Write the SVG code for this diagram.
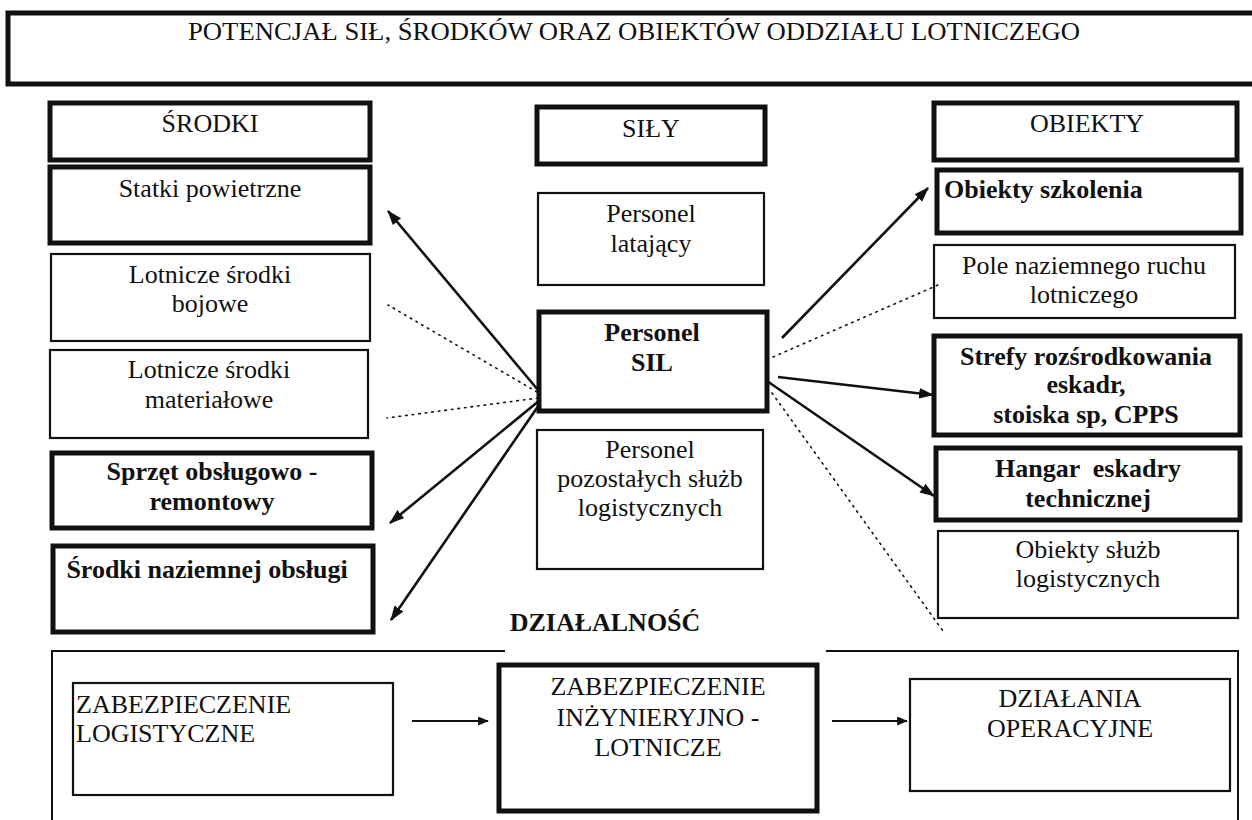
<svg xmlns="http://www.w3.org/2000/svg" width="1252" height="820" viewBox="0 0 1252 820">
  <style>
    text { font-family: "Liberation Serif", "Times New Roman", serif; font-size: 26px; fill: #111; }
    .c { text-anchor: middle; }
    .b { font-weight: bold; }
    .thick { fill: #fff; stroke: #111; stroke-width: 5; }
    .thin { fill: #fff; stroke: #111; stroke-width: 2.2; }
    .frame { fill: none; stroke: #111; stroke-width: 2; }
    .arrow { stroke: #111; stroke-width: 2.6; fill: none; marker-end: url(#ah); }
    .arrow-s { stroke: #111; stroke-width: 2; fill: none; marker-end: url(#ahs); }
    .dot { stroke: #111; stroke-width: 1.6; fill: none; stroke-dasharray: 1.6 5; stroke-linecap: round; }
  </style>
  <defs>
    <marker id="ah" viewBox="0 0 14 10" refX="13" refY="5" markerWidth="15" markerHeight="11" orient="auto" markerUnits="userSpaceOnUse">
      <path d="M0,0 L14,5 L0,10 Z" fill="#111"/>
    </marker>
    <marker id="ahs" viewBox="0 0 12 10" refX="11" refY="5" markerWidth="11" markerHeight="9" orient="auto" markerUnits="userSpaceOnUse">
      <path d="M0,0 L12,5 L0,10 Z" fill="#111"/>
    </marker>
  </defs>

  <rect width="1252" height="820" fill="#fff"/>

  <!-- header -->
  <g id="title">
    <rect x="8" y="13" width="1260" height="71" class="thick"/>
    <text x="634" y="40" class="c" textLength="892" lengthAdjust="spacingAndGlyphs">POTENCJAŁ SIŁ, ŚRODKÓW ORAZ OBIEKTÓW ODDZIAŁU LOTNICZEGO</text>
  </g>

  <!-- left column: ŚRODKI -->
  <g id="srodki">
    <rect x="50" y="103" width="320" height="57" class="thick"/>
    <text x="210" y="132" class="c">ŚRODKI</text>
  </g>
  <g id="statki">
    <rect x="50" y="167" width="320" height="76" class="thick"/>
    <text x="210" y="197" class="c">Statki powietrzne</text>
  </g>
  <g id="srodki-bojowe">
    <rect x="51" y="254" width="319" height="87" class="thin"/>
    <text x="210" y="283" class="c">Lotnicze środki</text>
    <text x="210" y="312" class="c">bojowe</text>
  </g>
  <g id="srodki-materialowe">
    <rect x="50" y="350" width="318" height="88" class="thin"/>
    <text x="209" y="378" class="c">Lotnicze środki</text>
    <text x="209" y="408" class="c">materiałowe</text>
  </g>
  <g id="sprzet">
    <rect x="52" y="453" width="320" height="75" class="thick"/>
    <text x="212" y="480" class="c b">Sprzęt obsługowo -</text>
    <text x="212" y="510" class="c b">remontowy</text>
  </g>
  <g id="naziemne">
    <rect x="53" y="546" width="320" height="86" class="thick"/>
    <text x="207" y="578" class="c b">Środki naziemnej obsługi</text>
  </g>

  <!-- centre column: SIŁY -->
  <g id="sily">
    <rect x="537" y="107" width="228" height="57" class="thick"/>
    <text x="651" y="137" class="c">SIŁY</text>
  </g>
  <g id="personel-latajacy">
    <rect x="538" y="193" width="226" height="92" class="thin"/>
    <text x="651" y="222" class="c">Personel</text>
    <text x="651" y="252" class="c">latający</text>
  </g>
  <g id="personel-sil">
    <rect x="539" y="312" width="228" height="99" class="thick"/>
    <text x="652" y="341" class="c b">Personel</text>
    <text x="652" y="371" class="c b">SIL</text>
  </g>
  <g id="personel-pozostaly">
    <rect x="537" y="430" width="226" height="139" class="thin"/>
    <text x="650" y="458" class="c">Personel</text>
    <text x="650" y="487" class="c">pozostałych służb</text>
    <text x="650" y="516" class="c">logistycznych</text>
  </g>

  <!-- right column: OBIEKTY -->
  <g id="obiekty">
    <rect x="934" y="103" width="303" height="57" class="thick"/>
    <text x="1087" y="132" class="c">OBIEKTY</text>
  </g>
  <g id="obiekty-szkolenia">
    <rect x="937" y="170" width="304" height="63" class="thick"/>
    <text x="944" y="198" class="b">Obiekty szkolenia</text>
  </g>
  <g id="pole-ruchu">
    <rect x="934" y="245" width="301" height="73" class="thin"/>
    <text x="1084" y="274" class="c">Pole naziemnego ruchu</text>
    <text x="1084" y="303" class="c">lotniczego</text>
  </g>
  <g id="strefy">
    <rect x="934" y="336" width="306" height="99" class="thick"/>
    <text x="1086" y="365" class="c b">Strefy rozśrodkowania</text>
    <text x="1086" y="393" class="c b">eskadr,</text>
    <text x="1086" y="423" class="c b">stoiska sp, CPPS</text>
  </g>
  <g id="hangar">
    <rect x="936" y="448" width="304" height="72" class="thick"/>
    <text x="1088" y="477" class="c b" xml:space="preserve">Hangar  eskadry</text>
    <text x="1088" y="507" class="c b">technicznej</text>
  </g>
  <g id="obiekty-sluzb">
    <rect x="938" y="531" width="300" height="87" class="thin"/>
    <text x="1088" y="558" class="c">Obiekty służb</text>
    <text x="1088" y="587" class="c">logistycznych</text>
  </g>

  <!-- activity section -->
  <g id="dzialalnosc">
    <text x="605" y="631" class="c b">DZIAŁALNOŚĆ</text>
    <polyline points="505,651 52,651 52,825" class="frame"/>
    <polyline points="826,651 1238,651 1238,825" class="frame"/>
  </g>
  <g id="zab-logistyczne">
    <rect x="73" y="683" width="320" height="112" class="thin"/>
    <text x="76" y="713">ZABEZPIECZENIE</text>
    <text x="76" y="742">LOGISTYCZNE</text>
  </g>
  <g id="zab-inzynieryjne">
    <rect x="499" y="665" width="318" height="146" class="thick"/>
    <text x="658" y="695" class="c">ZABEZPIECZENIE</text>
    <text x="658" y="726" class="c">INŻYNIERYJNO -</text>
    <text x="658" y="756" class="c">LOTNICZE</text>
  </g>
  <g id="dzialania">
    <rect x="910" y="679" width="320" height="112" class="thin"/>
    <text x="1070" y="707" class="c">DZIAŁANIA</text>
    <text x="1070" y="737" class="c">OPERACYJNE</text>
  </g>

  <!-- connectors -->
  <g id="connectors">
    <line x1="538" y1="390" x2="388" y2="211" class="arrow"/>
    <line x1="537" y1="392" x2="388" y2="305" class="dot"/>
    <line x1="538" y1="398" x2="387" y2="418" class="dot"/>
    <line x1="540" y1="400" x2="390" y2="523" class="arrow"/>
    <line x1="539" y1="405" x2="391" y2="620" class="arrow"/>

    <line x1="782" y1="338" x2="928" y2="188" class="arrow"/>
    <line x1="773" y1="357" x2="938" y2="285" class="dot"/>
    <line x1="778" y1="377" x2="933" y2="395" class="arrow"/>
    <line x1="767" y1="381" x2="934" y2="496" class="arrow"/>
    <line x1="772" y1="393" x2="943" y2="631" class="dot"/>

    <line x1="412" y1="721" x2="488" y2="721" class="arrow-s"/>
    <line x1="832" y1="721" x2="907" y2="721" class="arrow-s"/>
  </g>
</svg>
